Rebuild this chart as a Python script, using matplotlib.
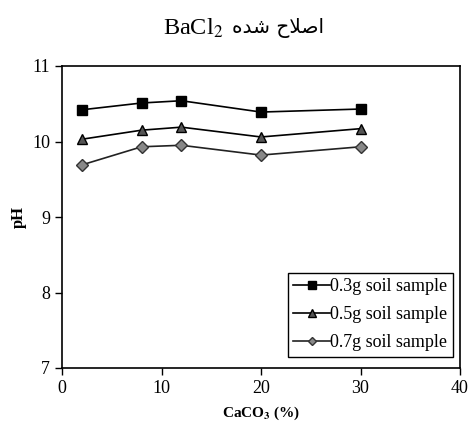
import matplotlib
matplotlib.use("Agg")
import matplotlib.pyplot as plt

caco3 = [2, 8, 12, 20, 30]
ph_03 = [10.42, 10.51, 10.54, 10.39, 10.43]
ph_05 = [10.03, 10.15, 10.19, 10.06, 10.17]
ph_07 = [9.69, 9.93, 9.95, 9.82, 9.93]
labels = ["0.3g soil sample", "0.5g soil sample", "0.7g soil sample"]
x_ticks = [0, 10, 20, 30, 40]
y_ticks = [7, 8, 9, 10, 11]

plt.rcParams['font.family'] = ['Liberation Serif', 'DejaVu Sans']
plt.rcParams['mathtext.fontset'] = 'stix'

fig = plt.figure(figsize=(4.70, 4.21), dpi=100)
ax = fig.add_axes([62/470, 1-368/421, 398/470, 302/421])

ax.plot(caco3, ph_03, color='black', lw=1.2, marker='s', ms=7,
        mfc='black', mec='black', label=labels[0])
ax.plot(caco3, ph_05, color='black', lw=1.2, marker='^', ms=7.5,
        mfc='#555555', mec='black', label=labels[1])
ax.plot(caco3, ph_07, color='#222222', lw=1.2, marker='D', ms=6,
        mfc='#888888', mec='#333333', label=labels[2])

ax.set_xlim(0, 40)
ax.set_ylim(7, 11)
ax.set_xticks(x_ticks)
ax.set_yticks(y_ticks)
ax.tick_params(direction='out', length=5, width=1, labelsize=13, colors='black')
for s in ax.spines.values():
    s.set_linewidth(1.2)
    s.set_color('black')

ax.set_xlabel(r"CaCO$_\mathbf{3}$ (%)", fontsize=11, fontweight='bold', labelpad=6)
ax.set_ylabel("pH", fontsize=12, fontweight='bold', labelpad=4)

leg = ax.legend(loc='lower right', bbox_to_anchor=(0.982, 0.037), fontsize=13,
                frameon=True, fancybox=False, edgecolor='black', framealpha=1,
                handlelength=2.05, handletextpad=0.0, borderpad=0.3,
                labelspacing=0.62, borderaxespad=0, markerscale=0.75)
leg.get_frame().set_linewidth(1.0)

title_fa = "\uFEE9\uFEAA\uFEB7 \uFEA1\uFEFC\uFEBB\uFE8D"
ty = 1 - 28/421
fig.text(223/470, ty, r"BaCl$_2$", ha='right', va='center', fontsize=17.5)
fig.text(232/470, ty, title_fa, ha='left', va='center', fontsize=14.5,
         family=['DejaVu Sans'])

fig.savefig("out.png", dpi=100)
